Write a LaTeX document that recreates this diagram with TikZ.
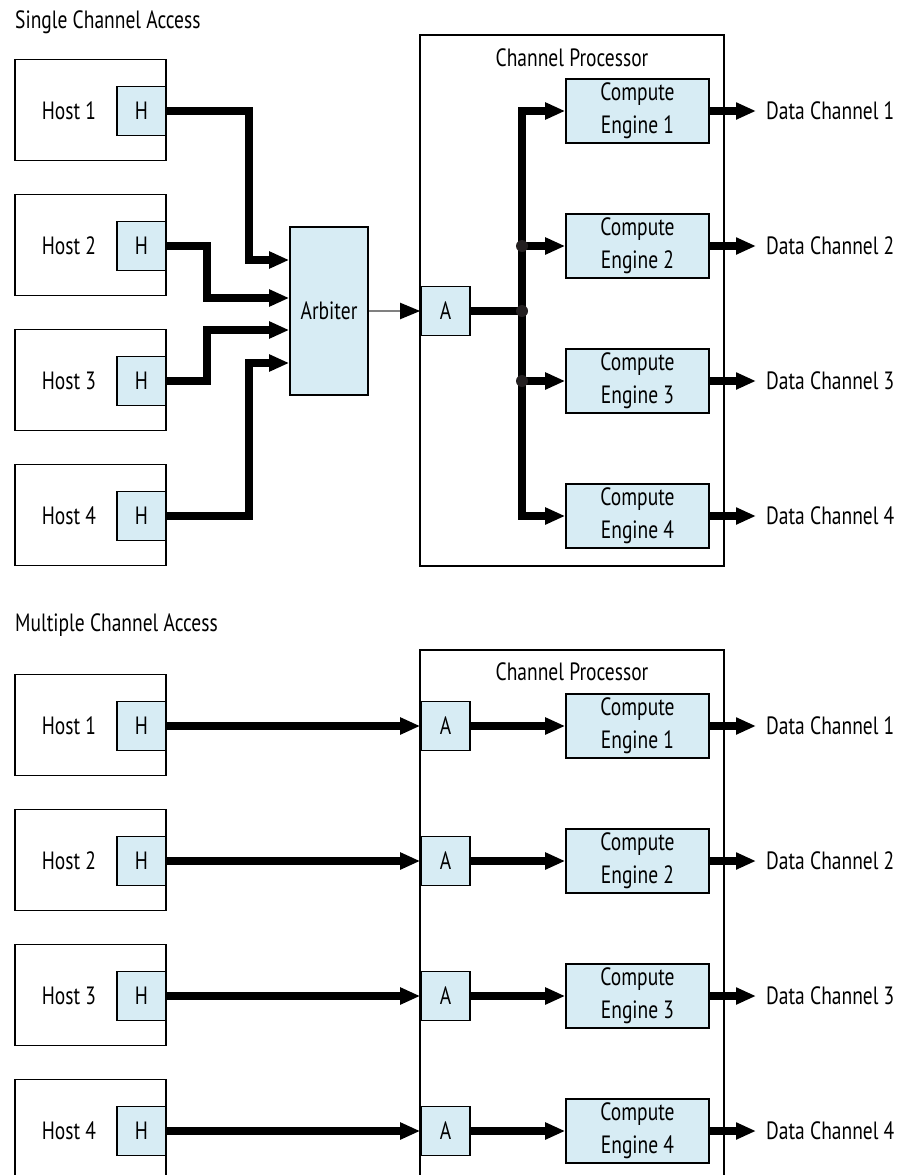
\documentclass[tikz,border=0pt]{standalone}
\usepackage{fontspec}
\setmainfont{PT Sans}[FakeStretch=0.78]
\usepackage{tikz}
\usetikzlibrary{arrows.meta}
\definecolor{portblue}{RGB}{215,236,244}
\definecolor{dotgray}{RGB}{35,31,32}
\tikzset{
	box/.style = {draw, line width=1.6pt, inner sep=0pt},
	hostbox/.style = {box, minimum width=151pt, minimum height=101pt},
	port/.style = {box, fill=portblue, minimum width=49pt, minimum height=49pt},
	engine/.style = {box, fill=portblue, minimum width=143pt, minimum height=64pt, align=center},
	procbox/.style = {box, minimum width=304pt, minimum height=531pt},
	wire/.style = {line width=7.5pt, -{Triangle[length=20pt,width=16pt]}},
	buswire/.style = {line width=7.5pt},
	junct/.style = {circle, fill=dotgray, inner sep=0pt, minimum size=12pt},
	chan/.style = {anchor=west, inner xsep=10pt, inner ysep=0pt}
}
\begin{document}
\begin{tikzpicture}[x=1pt, y=-1pt, font=\fontsize{25}{33}\selectfont]
	\useasboundingbox (0,0) rectangle (899,1175);
	\clip (0,0) rectangle (899,1175);
	% single channel access
	\node[anchor=west, inner sep=0pt] (title1) at (15,22) {Single Channel Access};
	\node[hostbox] (host1) at (90.5,110) {};
	\node[hostbox] (host2) at (90.5,245) {};
	\node[hostbox] (host3) at (90.5,380) {};
	\node[hostbox] (host4) at (90.5,515) {};
	\node (hname1) at (69,111) {Host 1};
	\node (hname2) at (69,246) {Host 2};
	\node (hname3) at (69,381) {Host 3};
	\node (hname4) at (69,516) {Host 4};
	\node[port] (h1) at (141.5,111) {H};
	\node[port] (h2) at (141.5,246) {H};
	\node[port] (h3) at (141.5,381) {H};
	\node[port] (h4) at (141.5,516) {H};
	\node[port, minimum width=78pt, minimum height=168pt] (arb) at (329,311) {Arbiter};
	\node[procbox] (cp) at (572,300.5) {};
	\node (cpname) at (572,58) {Channel Processor};
	\node[port] (a) at (445.5,311) {A};
	\node[engine] (ce1) at (637.5,111) {Compute\\Engine 1};
	\node[engine] (ce2) at (637.5,246) {Compute\\Engine 2};
	\node[engine] (ce3) at (637.5,381) {Compute\\Engine 3};
	\node[engine] (ce4) at (637.5,516) {Compute\\Engine 4};
	\node[chan] (dc1) at (756,111) {Data Channel 1};
	\node[chan] (dc2) at (756,246) {Data Channel 2};
	\node[chan] (dc3) at (756,381) {Data Channel 3};
	\node[chan] (dc4) at (756,516) {Data Channel 4};
	\draw[wire] (h1.east) -| (249,260) -- (arb.west |- 0,260);
	\draw[wire] (h2.east) -| (207,298) -- (arb.west |- 0,298);
	\draw[wire] (h3.east) -| (207,330) -- (arb.west |- 0,330);
	\draw[wire] (h4.east) -| (249,363) -- (arb.west |- 0,363);
	\draw[line width=2pt, draw=gray, -{Triangle[length=20pt,width=16pt,color=black]}] (arb.east) -- (a.west);
	\coordinate (bus) at (522,311);
	\draw[buswire] (a.east) -- (bus);
	\draw[wire] (bus) |- (ce1.west);
	\draw[wire] (bus) |- (ce2.west);
	\draw[wire] (bus) |- (ce3.west);
	\draw[wire] (bus) |- (ce4.west);
	\node[junct] (j1) at (bus) {};
	\node[junct] (j2) at (bus |- ce2.west) {};
	\node[junct] (j3) at (bus |- ce3.west) {};
	\draw[wire] (ce1.east) -- (dc1.west);
	\draw[wire] (ce2.east) -- (dc2.west);
	\draw[wire] (ce3.east) -- (dc3.west);
	\draw[wire] (ce4.east) -- (dc4.west);
	% multiple channel access
	\node[anchor=west, inner sep=0pt] (title2) at (15,625) {Multiple Channel Access};
	\node[hostbox] (mhost1) at (90.5,725) {};
	\node[hostbox] (mhost2) at (90.5,860) {};
	\node[hostbox] (mhost3) at (90.5,995) {};
	\node[hostbox] (mhost4) at (90.5,1130) {};
	\node (mhname1) at (69,726) {Host 1};
	\node (mhname2) at (69,861) {Host 2};
	\node (mhname3) at (69,996) {Host 3};
	\node (mhname4) at (69,1131) {Host 4};
	\node[port] (mh1) at (141.5,726) {H};
	\node[port] (mh2) at (141.5,861) {H};
	\node[port] (mh3) at (141.5,996) {H};
	\node[port] (mh4) at (141.5,1131) {H};
	\node[procbox] (mcp) at (572,915.5) {};
	\node (mcpname) at (572,672) {Channel Processor};
	\node[port] (ma1) at (445.5,726) {A};
	\node[port] (ma2) at (445.5,861) {A};
	\node[port] (ma3) at (445.5,996) {A};
	\node[port] (ma4) at (445.5,1131) {A};
	\node[engine] (mce1) at (637.5,726) {Compute\\Engine 1};
	\node[engine] (mce2) at (637.5,861) {Compute\\Engine 2};
	\node[engine] (mce3) at (637.5,996) {Compute\\Engine 3};
	\node[engine] (mce4) at (637.5,1131) {Compute\\Engine 4};
	\node[chan] (mdc1) at (756,726) {Data Channel 1};
	\node[chan] (mdc2) at (756,861) {Data Channel 2};
	\node[chan] (mdc3) at (756,996) {Data Channel 3};
	\node[chan] (mdc4) at (756,1131) {Data Channel 4};
	\draw[wire] (mh1.east) -- (ma1.west);
	\draw[wire] (mh2.east) -- (ma2.west);
	\draw[wire] (mh3.east) -- (ma3.west);
	\draw[wire] (mh4.east) -- (ma4.west);
	\draw[wire] (ma1.east) -- (mce1.west);
	\draw[wire] (ma2.east) -- (mce2.west);
	\draw[wire] (ma3.east) -- (mce3.west);
	\draw[wire] (ma4.east) -- (mce4.west);
	\draw[wire] (mce1.east) -- (mdc1.west);
	\draw[wire] (mce2.east) -- (mdc2.west);
	\draw[wire] (mce3.east) -- (mdc3.west);
	\draw[wire] (mce4.east) -- (mdc4.west);
\end{tikzpicture}
\end{document}
